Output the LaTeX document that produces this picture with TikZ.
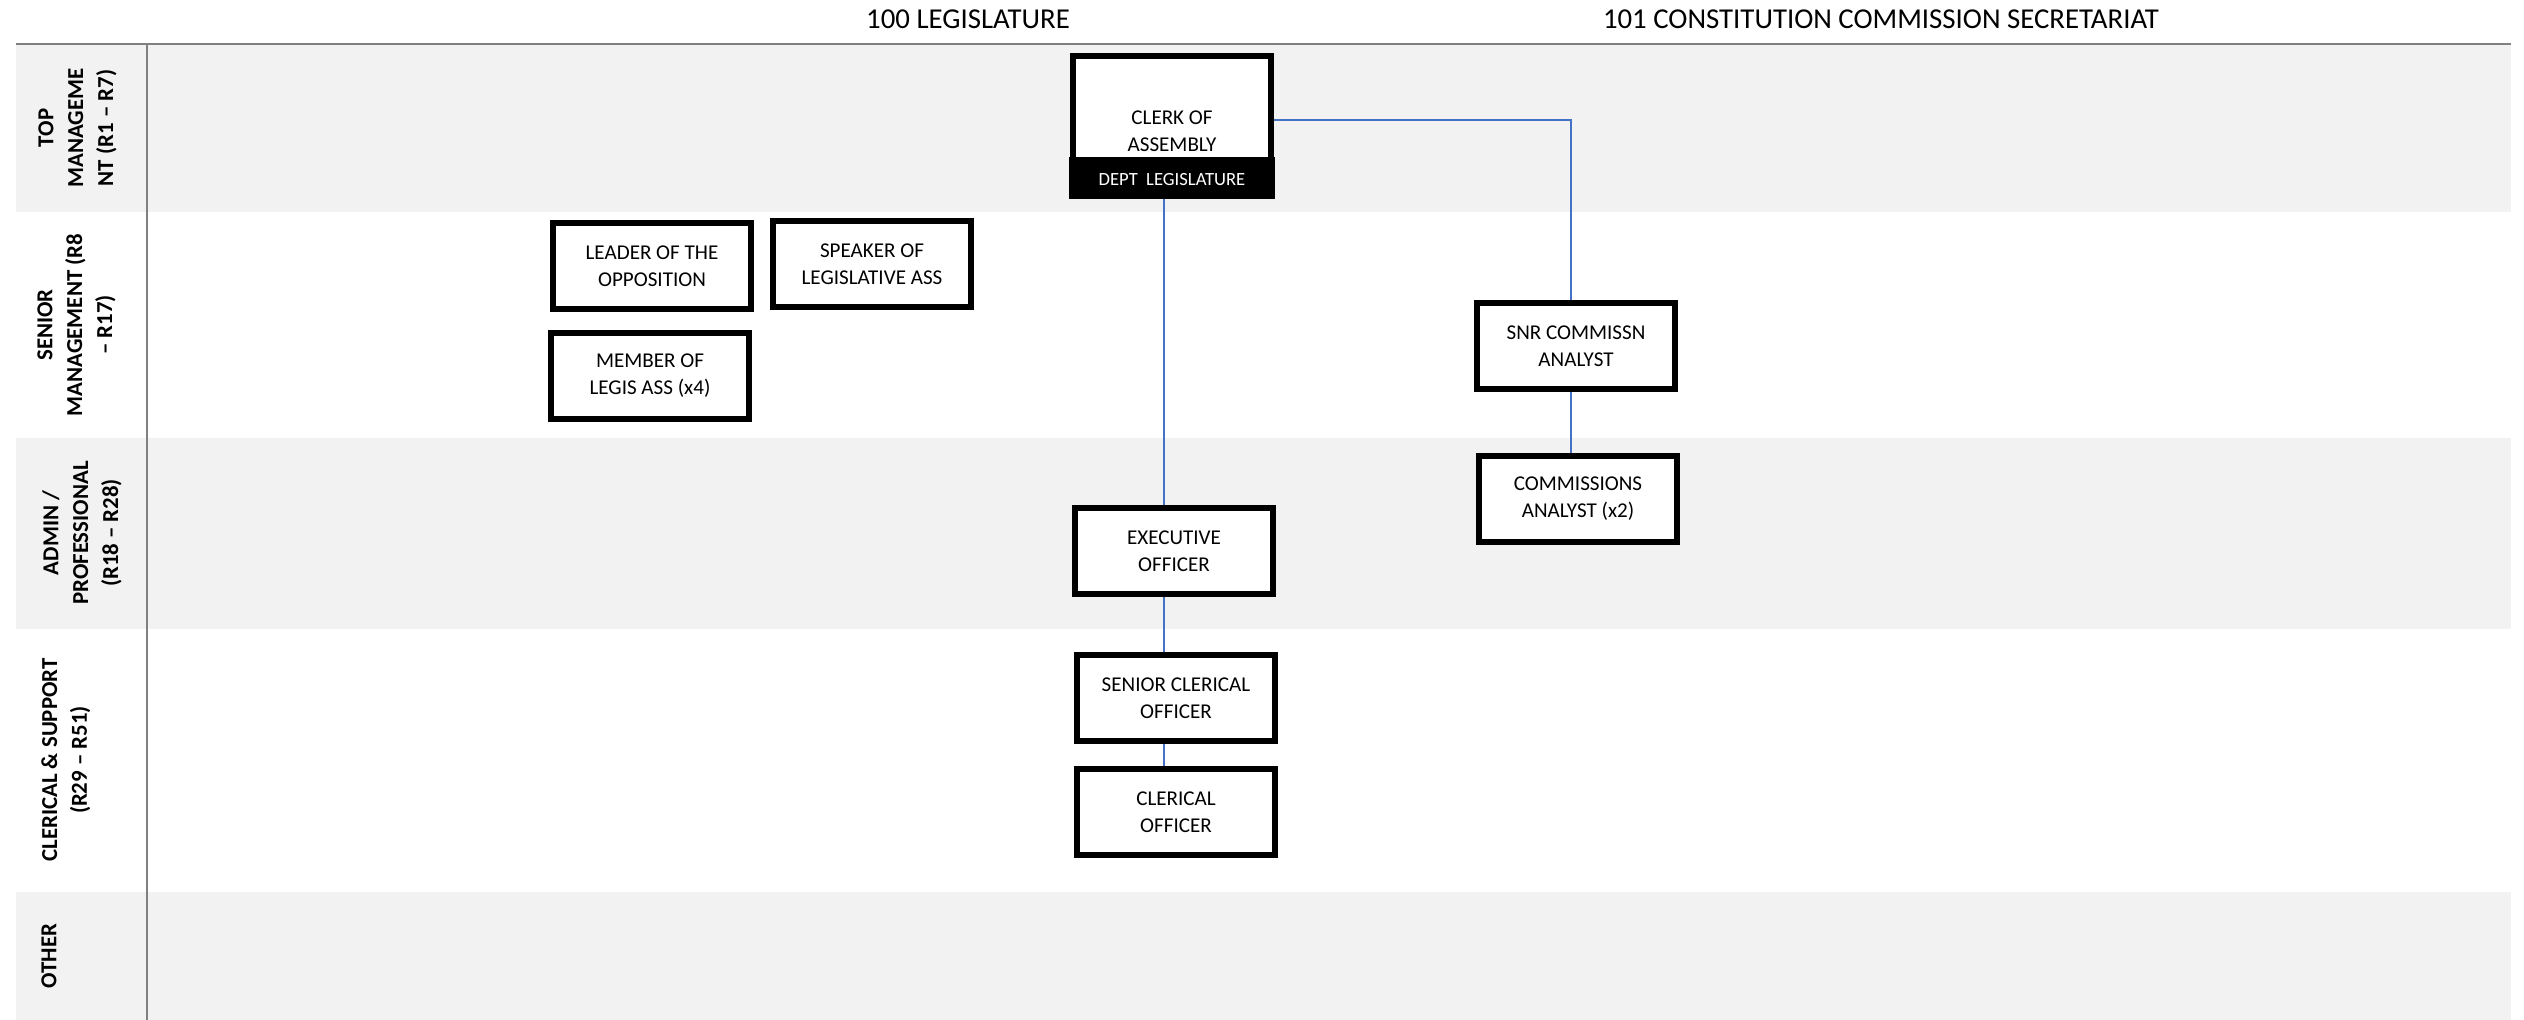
\documentclass[tikz,border=0pt]{standalone}
\usepackage{fontspec}
\setmainfont{Carlito}
\usetikzlibrary{positioning}
\definecolor{bandgrey}{HTML}{F2F2F2}
\definecolor{rulegrey}{HTML}{808080}
\definecolor{linkblue}{HTML}{4472C4}

\begin{document}
\begin{tikzpicture}[x=0.02cm, y=-0.02cm,
	post/.style={draw, line width=3.8pt, fill=white, minimum width=3.96cm, minimum height=1.72cm, inner sep=0, align=center, font=\fontsize{12}{15.3}\selectfont},
	band/.style={rotate=90, anchor=north, inner sep=0, align=center, font=\bfseries\fontsize{13}{17}\selectfont},
	head/.style={anchor=base, inner sep=0, font=\fontsize{16.4}{19}\selectfont},
	link/.style={draw=linkblue, line width=0.8pt}]
	\useasboundingbox (0,0) rectangle (2524,1020);
	% Bands and rules:
	\fill[bandgrey] (16,44) rectangle (2511,212);
	\fill[bandgrey] (16,438) rectangle (2511,629);
	\fill[bandgrey] (16,892) rectangle (2511,1020);
	\draw[rulegrey, line width=1pt] (16,44) -- (2511,44);
	\draw[rulegrey, line width=1pt] (147,44) -- (147,1020);
	% Band labels:
	\node[band] (topband) at (38,128) {TOP\\MANAGEME\\NT (R1 – R7)};
	\node[band] (snrband) at (37,325) {SENIOR\\MANAGEMENT (R8\\– R17)};
	\node[band] (admband) at (42,533) {ADMIN /\\PROFESSIONAL\\(R18 – R28)};
	\node[band] (clerband) at (41,760) {CLERICAL \& SUPPORT\\(R29 – R51)};
	\node[band] (othband) at (41,956) {OTHER};
	% Headings:
	\node[head] (legis) at (968,29) {100 LEGISLATURE};
	\node[head] (consec) at (1881,29) {101 CONSTITUTION COMMISSION SECRETARIAT};
	% Posts:
	\node[post, minimum height=2.8cm] (clerk) at (1172,126) {};
	\fill (1069,157) rectangle (1275,199);
	\node[align=center, font=\fontsize{12}{15.3}\selectfont] (clerkname) at (1172,131) {CLERK OF\\ASSEMBLY};
	\node[text=white, font=\fontsize{10.6}{12}\selectfont] (dept) at (1172,180) {DEPT\ \ LEGISLATURE};
	\node[post] (leader) at (652,266) {LEADER OF THE\\OPPOSITION};
	\node[post] (speaker) at (872,264) {SPEAKER OF\\LEGISLATIVE ASS};
	\node[post] (member) at (650,376) {MEMBER OF\\LEGIS ASS (x4)};
	\node[post] (snr) at (1576,346) {SNR COMMISSN\\ANALYST};
	\node[post] (comm) at (1578,499) {COMMISSIONS\\ANALYST (x2)};
	\node[post] (exec) at (1174,551) {EXECUTIVE\\OFFICER};
	\node[post] (snrclerk) at (1176,698) {SENIOR CLERICAL\\OFFICER};
	\node[post] (clerical) at (1176,812) {CLERICAL\\OFFICER};
	% Connectors:
	\coordinate (trunk) at (1164,0);
	\coordinate (branch) at (1571,0);
	\draw[link] (clerk.south -| trunk) -- (exec.north -| trunk);
	\draw[link] (exec.south -| trunk) -- (snrclerk.north -| trunk);
	\draw[link] (snrclerk.south -| trunk) -- (clerical.north -| trunk);
	\draw[link] ([yshift=0.12cm]clerk.east) -| (snr.north -| branch);
	\draw[link] (snr.south -| branch) -- (comm.north -| branch);
\end{tikzpicture}
\end{document}
